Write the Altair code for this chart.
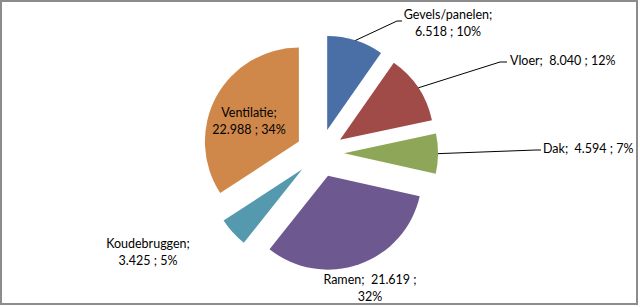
import math
import altair as alt
import pandas as pd

# ---- data ----
categories = ["Gevels/panelen", "Vloer", "Dak", "Ramen", "Koudebruggen", "Ventilatie"]
values = [6518, 8040, 4594, 21619, 3425, 22988]
value_text = ["6.518", "8.040", "4.594", "21.619", "3.425", "22.988"]

# ---- style / layout ----
colors = ["#4A6EA6", "#A04B47", "#8DA657", "#6E5890", "#5499AD", "#D0884A"]
W, H = 640, 307
CX, CY, R, EXPLODE = 320, 153, 94, 24
FONT = "Lato"
FS = 12.5
LH = 17
SP2 = "\u00a0 "  # double space that survives SVG whitespace collapsing

# label layout: (line break pattern, x, y of first line, align)
label_layout = {
    "Gevels/panelen": ("{n};\n{v} ; {p}", 448, 15, "center"),
    "Vloer": ("{n};" + SP2 + "{v} ; {p}", 510, 61, "left"),
    "Dak": ("{n};" + SP2 + "{v} ; {p}", 543, 149, "left"),
    "Ramen": ("{n};" + SP2 + "{v} ;\n{p}", 370, 280, "center"),
    "Koudebruggen": ("{n};\n{v} ; {p}", 148, 244, "center"),
    "Ventilatie": ("{n};\n{v} ; {p}", 249, 113, "center"),
}
# leader lines: elbow and end point
leader_layout = {
    "Gevels/panelen": [(397, 21), (402, 21)],
    "Vloer": [(500, 62), (507, 62)],
    "Dak": [(536, 150), (541, 150)],
}

total = sum(values)
pcts = [f"{round(v / total * 100)}%" for v in values]

df = pd.DataFrame({"cat": categories, "val": values, "order": list(range(len(values)))})

base = (
    alt.Chart(df)
    .transform_joinaggregate(total="sum(val)")
    .transform_window(cum="sum(val)", sort=[alt.SortField("order")], frame=[None, 0])
    .transform_calculate(
        t1="2*PI*datum.cum/datum.total",
        t0="2*PI*(datum.cum-datum.val)/datum.total",
    )
    .transform_calculate(
        tm="(datum.t0+datum.t1)/2",
    )
    .transform_calculate(
        px=f"{CX}+{EXPLODE}*sin(datum.tm)",
        py=f"{CY}-{EXPLODE}*cos(datum.tm)",
    )
)

pie = base.mark_arc(radius=R).encode(
    theta=alt.Theta("t0:Q", scale=None, stack=None),
    theta2="t1:Q",
    x=alt.X("px:Q", scale=None, axis=None),
    y=alt.Y("py:Q", scale=None, axis=None),
    color=alt.Color("cat:N", scale=alt.Scale(domain=categories, range=colors), legend=None),
)

# leader lines (start computed from slice mid-angle)
rows = []
cum = 0
for c, v in zip(categories, values):
    t0 = cum / total * 2 * math.pi
    cum += v
    t1 = cum / total * 2 * math.pi
    tm = (t0 + t1) / 2
    if c in leader_layout:
        sx = CX + (R + EXPLODE) * math.sin(tm)
        sy = CY - (R + EXPLODE) * math.cos(tm)
        rows.append({"cat": c, "i": 0, "x": sx, "y": sy})
        for k, (lx, ly) in enumerate(leader_layout[c]):
            rows.append({"cat": c, "i": k + 1, "x": lx, "y": ly})
leaders = alt.Chart(pd.DataFrame(rows)).mark_line(color="black", strokeWidth=1).encode(
    x=alt.X("x:Q", scale=None, axis=None),
    y=alt.Y("y:Q", scale=None, axis=None),
    detail="cat:N",
    order="i:Q",
)

lab_rows = []
for c, v, p in zip(categories, value_text, pcts):
    fmt, lx, ly, al = label_layout[c]
    lab_rows.append({"cat": c, "txt": fmt.format(n=c, v=v, p=p), "x": lx, "y": ly, "al": al})
lab_df = pd.DataFrame(lab_rows)

def text_layer(align):
    return alt.Chart(lab_df[lab_df["al"] == align]).mark_text(
        font=FONT, fontSize=FS, color="black", align=align, baseline="middle",
        lineBreak="\n", lineHeight=LH,
    ).encode(
        x=alt.X("x:Q", scale=None, axis=None),
        y=alt.Y("y:Q", scale=None, axis=None),
        text="txt:N",
    )

frame = alt.Chart(pd.DataFrame({"a": [0]})).mark_rect(
    fill="white", stroke="#8c8c8c", strokeWidth=2
).encode(x=alt.value(1), x2=alt.value(637), y=alt.value(1), y2=alt.value(304))

chart = alt.layer(frame, pie, leaders, text_layer("center"), text_layer("left")).properties(
    width=W, height=H, padding=0, autosize="none", background="white"
).configure_view(stroke=None)

chart.save("out.html", embed_options={"renderer": "svg", "actions": False})
